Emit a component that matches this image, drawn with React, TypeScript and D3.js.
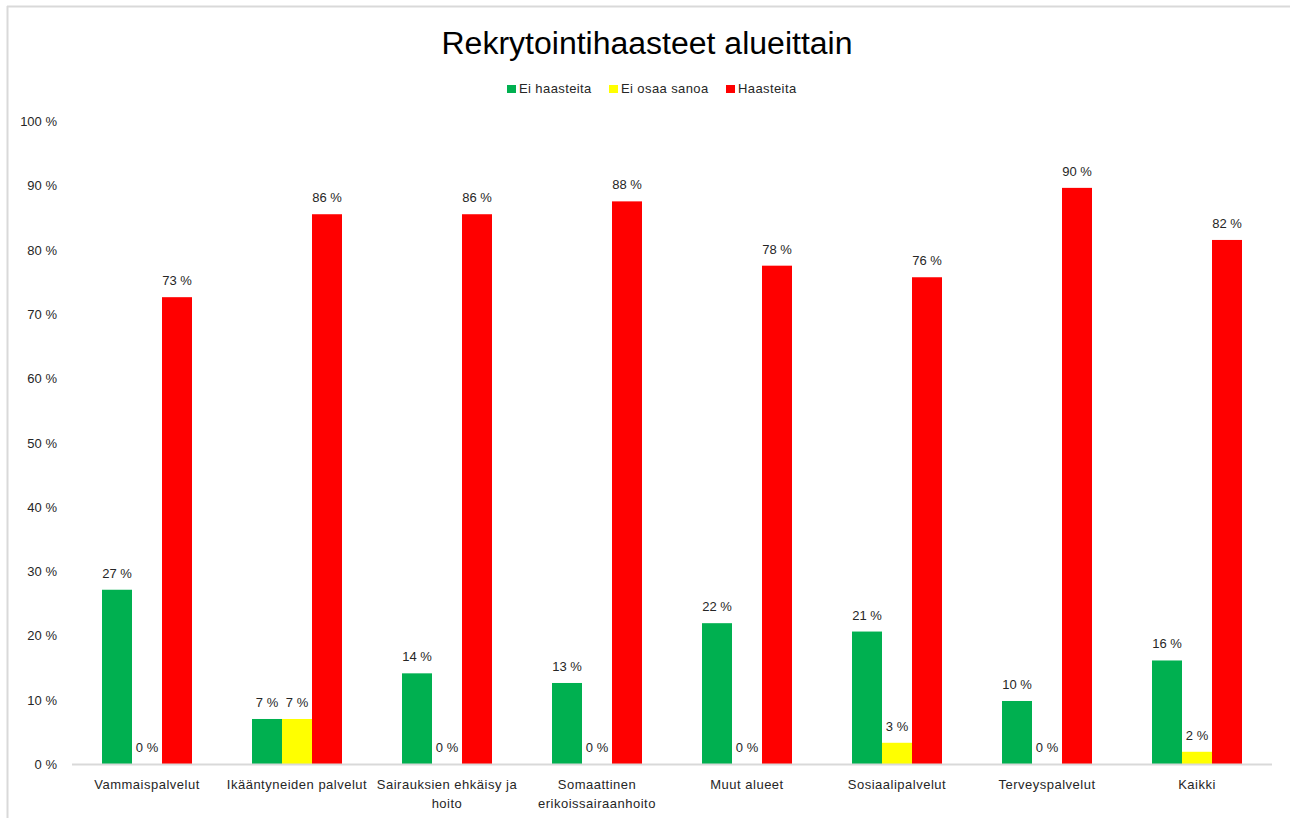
import React from "react";
import * as d3 from "d3";

const categories: string[][] = [
  ["Vammaispalvelut"],
  ["Ikääntyneiden palvelut"],
  ["Sairauksien ehkäisy ja", "hoito"],
  ["Somaattinen", "erikoissairaanhoito"],
  ["Muut alueet"],
  ["Sosiaalipalvelut"],
  ["Terveyspalvelut"],
  ["Kaikki"],
];
const seriesNames = ["Ei haasteita", "Ei osaa sanoa", "Haasteita"];
const seriesColors = ["#00B050", "#FFFF00", "#FF0000"];
const eiHaasteita = [27.1, 7.0, 14.1, 12.6, 21.9, 20.6, 9.8, 16.1];
const eiOsaaSanoa = [0, 7.0, 0, 0, 0, 3.3, 0, 1.9];
const haasteita = [72.6, 85.5, 85.5, 87.5, 77.5, 75.7, 89.6, 81.5];
const yTicks = [0, 10, 20, 30, 40, 50, 60, 70, 80, 90, 100];
const title = "Rekrytointihaasteet alueittain";

const W = 1290;
const H = 818;
const FONT = "'Liberation Sans', Arial, sans-serif";
const TXT = "#262626";

export default function App() {
  const left = 72;
  const right = 1272;
  const top = 121;
  const bottom = 764;
  const series = [eiHaasteita, eiOsaaSanoa, haasteita];
  const idx = categories.map((_, i) => i);

  const x0 = d3.scaleBand<number>().domain(idx).range([left, right]).paddingInner(0.4).paddingOuter(0.2);
  const x1 = d3.scaleBand<number>().domain([0, 1, 2]).range([0, x0.bandwidth()]);
  const y = d3.scaleLinear().domain([0, 100]).range([bottom, top]);

  const legendItems = [
    { sq: 507, tx: 519 },
    { sq: 609, tx: 621 },
    { sq: 726, tx: 738 },
  ];

  return (
    <svg width={W} height={H} style={{ position: "absolute", left: 0, top: 0, background: "#fff" }} fontFamily={FONT}>
      <rect x={0} y={0} width={W} height={H} fill="#fff" />
      {/* frame */}
      <line x1={7} y1={6.5} x2={W} y2={6.5} stroke="#d9d9d9" strokeWidth={2} />
      <line x1={7.5} y1={6} x2={7.5} y2={H} stroke="#d9d9d9" strokeWidth={2} />

      <text x={647} y={54} textAnchor="middle" fontSize={31} fill="#000" textLength={411} lengthAdjust="spacingAndGlyphs">
        {title}
      </text>

      {seriesNames.map((n, i) => (
        <g key={n}>
          <rect x={legendItems[i].sq} y={85} width={9} height={8} fill={seriesColors[i]} />
          <text x={legendItems[i].tx} y={93} fontSize={13} fill={TXT} letterSpacing={0.4}>
            {n}
          </text>
        </g>
      ))}

      {yTicks.map((t) => (
        <text key={t} x={57} y={y(t) + 5} textAnchor="end" fontSize={13} fill={TXT}>
          {t} %
        </text>
      ))}

      {idx.map((ci) => (
        <g key={ci} transform={`translate(${x0(ci)},0)`}>
          {series.map((s, si) => {
            const v = s[ci];
            const bx = x1(si)!;
            const bw = x1.bandwidth();
            return (
              <g key={si}>
                {v > 0 && <rect x={bx} y={y(v)} width={bw} height={bottom - y(v)} fill={seriesColors[si]} />}
                <text x={bx + bw / 2} y={y(v) - 12} textAnchor="middle" fontSize={13} fill={TXT}>
                  {Math.round(v)} %
                </text>
              </g>
            );
          })}
          {categories[ci].map((line, li) => (
            <text
              key={li}
              x={x0.bandwidth() / 2}
              y={789 + li * 19}
              textAnchor="middle"
              fontSize={13}
              fill={TXT}
              letterSpacing={0.5}
            >
              {line}
            </text>
          ))}
        </g>
      ))}

      <line x1={left} y1={bottom + 0.5} x2={right} y2={bottom + 0.5} stroke="#d9d9d9" strokeWidth={2} />
    </svg>
  );
}
